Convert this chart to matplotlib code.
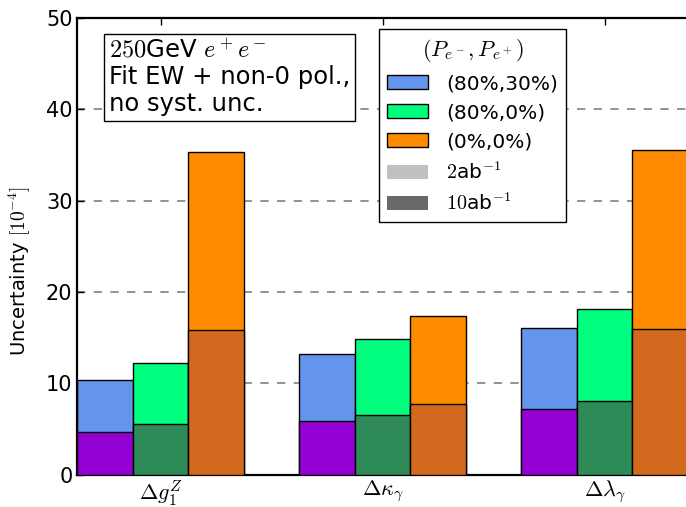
import matplotlib
matplotlib.use("Agg")
import matplotlib.pyplot as plt
from matplotlib.patches import Patch
import numpy as np

plt.rcParams["mathtext.fontset"] = "cm"
plt.rcParams["font.family"] = ["DejaVu Sans"]

# couplings on the x axis
couplings = [r"$\Delta g_1^Z$", r"$\Delta\kappa_\gamma$", r"$\Delta\lambda_\gamma$"]

# polarisation settings
pol_labels = ["(80%,30%)", "(80%,0%)", "(0%,0%)"]

# uncertainty [1e-4] with 2 ab^-1, one list per polarisation
unc_2ab_80_30 = [10.4, 13.2, 16.1]
unc_2ab_80_0 = [12.2, 14.8, 18.1]
unc_2ab_0_0 = [35.3, 17.4, 35.5]

# uncertainty [1e-4] with 10 ab^-1
unc_10ab_80_30 = [4.7, 5.9, 7.2]
unc_10ab_80_0 = [5.5, 6.5, 8.1]
unc_10ab_0_0 = [15.8, 7.7, 15.9]

light_colors = ["#6495ED", "#00FF7F", "#FF8C00"]
dark_colors = ["#9400D3", "#2E8B57", "#D2691E"]

unc_2ab = [unc_2ab_80_30, unc_2ab_80_0, unc_2ab_0_0]
unc_10ab = [unc_10ab_80_30, unc_10ab_80_0, unc_10ab_0_0]

fig = plt.figure(figsize=(6.86, 5.07), dpi=100)
ax = fig.add_axes([77.3 / 686, 32.4 / 507, 666 / 686, 456.6 / 507])

group_pos = np.arange(len(couplings)) * 4
for i in range(3):
    x = group_pos + i
    ax.bar(x, unc_2ab[i], width=1.0, color=light_colors[i],
           edgecolor="black", linewidth=1.0, zorder=2)
    ax.bar(x, unc_10ab[i], width=1.0, color=dark_colors[i],
           edgecolor="black", linewidth=1.0, zorder=3)

ax.set_xlim(-0.5, 11.5)
ax.set_ylim(0, 50)
ax.set_yticks([0, 10, 20, 30, 40, 50])
ax.set_xticks(group_pos + 1)
ax.set_xticklabels(couplings, fontsize=16)
ax.tick_params(axis="x", pad=3)
ax.tick_params(axis="y", labelsize=15)
ax.tick_params(direction="in", top=True, right=True, length=5, width=1)
ax.yaxis.grid(True, linestyle=(0, (5, 5)), color="#808080", linewidth=1.2)
ax.set_axisbelow(True)
for sp in ax.spines.values():
    sp.set_linewidth(1.6)

ax.set_ylabel(r"Uncertainty $[10^{-4}]$", fontsize=14)
ax.yaxis.set_label_coords(-0.066, 0.446)

fig.text(109 / 686, 1 - 39 / 507,
         "$250$GeV $e^+e^-$\nFit EW + non-0 pol.,\nno syst. unc.",
         fontsize=17.5, va="top", ha="left", linespacing=1.12,
         bbox=dict(boxstyle="square,pad=0.2", facecolor="white",
                   edgecolor="black", linewidth=1.0))

handles = [Patch(facecolor=c, edgecolor="black") for c in light_colors]
handles.append(Patch(facecolor="#c0c0c0", edgecolor="none"))
handles.append(Patch(facecolor="#696969", edgecolor="none"))
labels = pol_labels + [r"$2$ab$^{-1}$", r"$10$ab$^{-1}$"]
leg = ax.legend(handles, labels, title=r"$(P_{e^-},P_{e^+})$",
                loc="upper left", bbox_to_anchor=(379.3 / 686, 1 - 29 / 507),
                bbox_transform=fig.transFigure, borderaxespad=0,
                fontsize=14.5, title_fontsize=16, fancybox=False,
                framealpha=1, edgecolor="black", handlelength=2.0,
                handletextpad=0.9)
leg.get_frame().set_linewidth(1.0)

fig.savefig("out.png", dpi=100)
